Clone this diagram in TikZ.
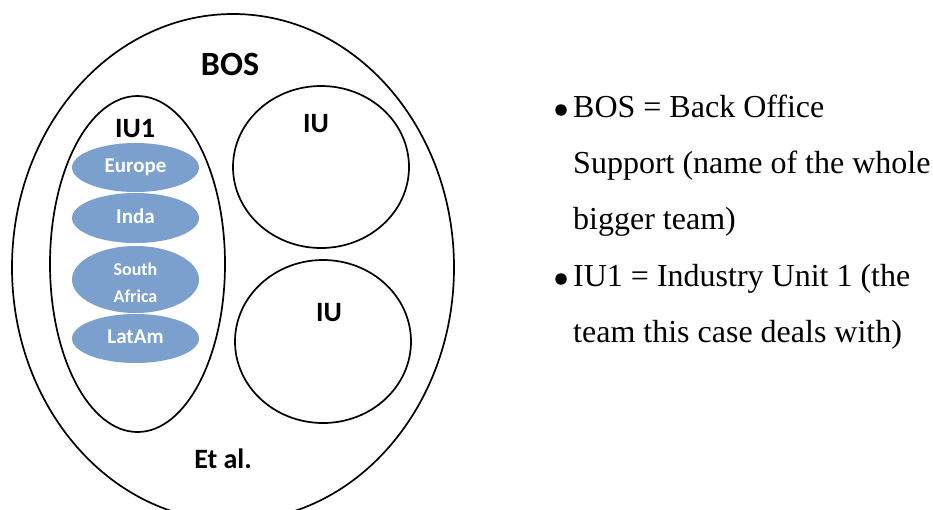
\documentclass[tikz,border=0pt]{standalone}
\usepackage{fontspec}
\setmainfont{Liberation Serif}
\newfontfamily\labelfont{Carlito}
\usetikzlibrary{shapes.geometric}

\definecolor{regionblue}{RGB}{123,160,205}

\tikzset{
  ring/.style={draw=black, line width=1.7pt, ellipse, inner sep=0pt},
  region/.style={fill=regionblue, ellipse, inner sep=0pt,
                 minimum width=127pt},
  tag/.style={font=\labelfont\bfseries\fontsize{28}{30}\selectfont,
              anchor=base, inner sep=0pt},
  regiontag/.style={text=white, anchor=base, inner sep=0pt,
              font=\labelfont\bfseries\fontsize{21}{24}\selectfont},
  smalltag/.style={text=white, anchor=base, inner sep=0pt,
              font=\labelfont\bfseries\fontsize{18}{20}\selectfont},
  legend/.style={anchor=base west, inner sep=0pt,
              font=\fontsize{32}{36}\selectfont},
  dot/.style={circle, fill=black, inner sep=0pt, minimum size=11.5pt}
}

\begin{document}
\begin{tikzpicture}[x=1pt, y=-1pt]
  \useasboundingbox (0,0) rectangle (933,509);
  \clip (0,0) rectangle (933,509);

  % team structure
  \node[ring, minimum width=442pt, minimum height=507pt] (bos) at (233,267.5) {};
  \node[ring, minimum width=175pt, minimum height=336pt] (iu1) at (137.5,264) {};
  \node[ring, minimum width=176pt, minimum height=162pt] (iuA) at (321,167) {};
  \node[ring, minimum width=176pt, minimum height=163pt] (iuB) at (323,341.5) {};

  % regions inside IU1
  \node[region, minimum height=49pt] (europe) at (135.5,167.5) {};
  \node[region, minimum height=50pt] (india)  at (135.5,218) {};
  \node[region, minimum height=67pt] (safrica) at (135.5,279.5) {};
  \node[region, minimum height=49pt] (latam)  at (135.5,338.5) {};

  % labels
  \node[tag, font=\labelfont\bfseries\fontsize{34}{38}\selectfont] (bosT) at (230,75) {BOS};
  \node[tag] (iu1T) at (135,137) {IU1};
  \node[tag] (iuAT) at (316,132) {IU};
  \node[tag] (iuBT) at (329,321) {IU};
  \node[tag] (etal) at (223,468) {Et al.};

  \node[regiontag] (europeT) at (135.5,172) {Europe};
  \node[regiontag] (indiaT)  at (135.5,223) {Inda};
  \node[smalltag] (southT)   at (135.5,275) {South};
  \node[smalltag] (africaT)  at (135.5,302) {Africa};
  \node[regiontag] (latamT)  at (135.5,343) {LatAm};

  % legend
  \node[dot] (b1) at (561,110) {};
  \node[dot] (b2) at (561,279) {};
  \node[legend] (l1) at (573,117) {BOS = Back Office};
  \node[legend] (l2) at (573,173) {Support (name of the whole};
  \node[legend] (l3) at (573,229) {bigger team)};
  \node[legend] (l4) at (573,286) {IU1 = Industry Unit 1 (the};
  \node[legend] (l5) at (573,342) {team this case deals with)};
\end{tikzpicture}
\end{document}
